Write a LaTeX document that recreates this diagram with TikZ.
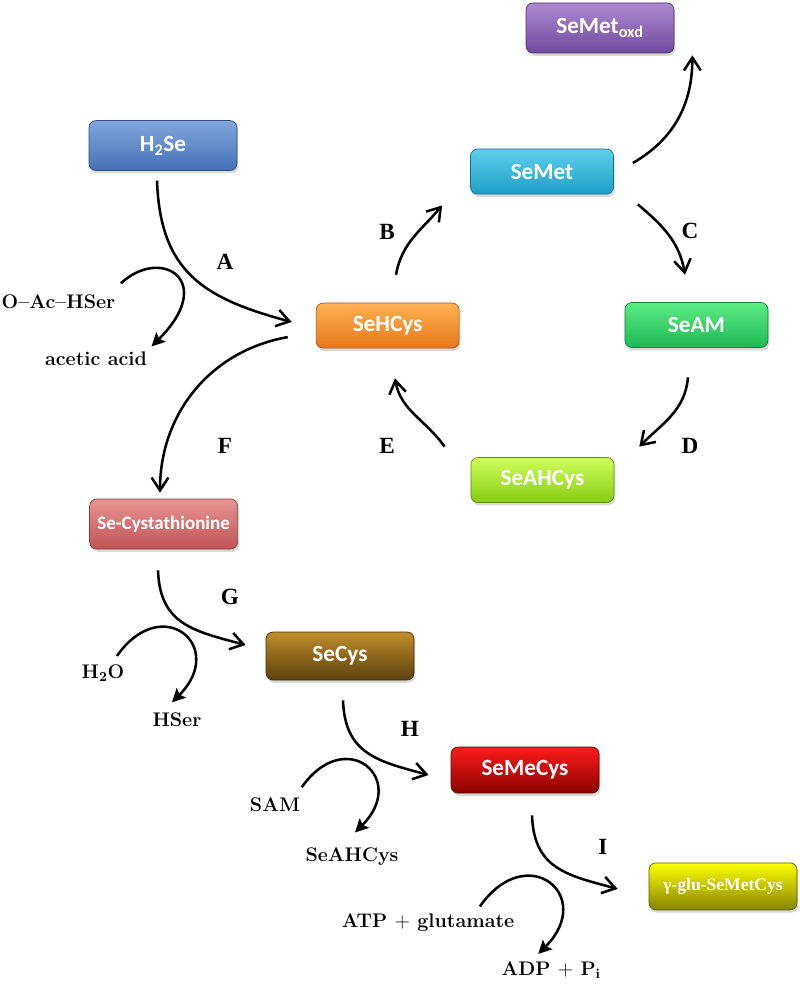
\documentclass[tikz,border=0pt]{standalone}
\usepackage{fontspec}
\newfontfamily\cpdfont{Carlito}
\newfontfamily\letterfont{Liberation Serif}
\usepackage{tikz}
\usetikzlibrary{arrows.meta, shadows, calc, positioning}

\definecolor{oxdT}{RGB}{172,138,208}\definecolor{oxdB}{RGB}{112,74,158}
\definecolor{hseT}{RGB}{128,168,222}\definecolor{hseB}{RGB}{68,112,182}
\definecolor{metT}{RGB}{92,208,236}\definecolor{metB}{RGB}{30,158,198}
\definecolor{hcyT}{RGB}{255,178,82}\definecolor{hcyB}{RGB}{232,118,28}
\definecolor{samT}{RGB}{92,236,132}\definecolor{samB}{RGB}{30,184,84}
\definecolor{ahcT}{RGB}{208,255,92}\definecolor{ahcB}{RGB}{134,204,20}
\definecolor{cstT}{RGB}{232,148,148}\definecolor{cstB}{RGB}{192,84,84}
\definecolor{cysT}{RGB}{192,142,42}\definecolor{cysB}{RGB}{92,64,14}
\definecolor{mecT}{RGB}{255,28,28}\definecolor{mecB}{RGB}{138,0,0}
\definecolor{gluT}{RGB}{255,255,0}\definecolor{gluB}{RGB}{132,132,0}

\begin{document}
\begin{tikzpicture}[
  cpd/.style={draw=#1B!70!black, line width=0.5pt, rounded corners=5pt,
              top color=#1T, bottom color=#1B, text=white,
              minimum width=3.7cm, minimum height=1.25cm, inner sep=2pt,
              font=\cpdfont\bfseries\fontsize{16.5}{18}\selectfont,
              drop shadow={opacity=0.3, shadow xshift=0.03cm, shadow yshift=-0.07cm}},
  cyc/.style={cpd=#1, minimum width=3.575cm, minimum height=1.125cm},
  lbl/.style={font=\letterfont\bfseries\fontsize{16.5}{18}\selectfont},
  chem/.style={font=\bfseries\fontsize{14}{16}\selectfont, inner sep=1pt},
  arrow/.style={-{Straight Barb[length=3.2mm,width=4.2mm]}, line width=1.8pt},
  side/.style={-{Stealth[length=3.3mm,width=3.3mm,inset=0.6mm]}, line width=1.8pt},
]
\useasboundingbox (0,0) rectangle (19.975,-24.6);

% Boxes
\node[cpd=oxd] (oxd)     at (15.0,-0.7)    {SeMet\textsubscript{oxd}};
\node[cpd=hse] (h2se)    at (4.075,-3.64)  {H\textsubscript{2}Se};
\node[cyc=met] (semet)   at (13.55,-4.29)  {SeMet};
\node[cyc=hcy] (sehcys)  at (9.69,-8.14)   {SeHCys};
\node[cyc=sam] (seam)    at (17.41,-8.125) {SeAM};
\node[cyc=ahc] (seahcys) at (13.56,-12.0)  {SeAHCys};
\node[cpd=cst, font=\cpdfont\bfseries\fontsize{13.5}{15}\selectfont]
               (secysta) at (4.09,-13.1)   {Se-Cystathionine};
\node[cpd=cys, minimum height=1.2cm]  (secys)   at (8.5,-16.4)    {SeCys};
\node[cpd=mec, minimum height=1.15cm] (semecys) at (13.125,-19.25) {SeMeCys};
\node[cpd=glu, minimum height=1.175cm, font=\letterfont\bfseries\fontsize{12.5}{14}\selectfont]
               (glu)     at (18.075,-22.16) {γ-glu-SeMetCys};

% Co-substrates
\node[chem, anchor=west] (oac) at (0,-7.55)  {O--Ac--HSer};
\node[chem] (acetic) at (2.4,-8.975)  {acetic acid};
\node[chem] (h2o)    at (2.575,-16.825) {H\textsubscript{2}O};
\node[chem] (hser)   at (4.425,-18.0)  {HSer};
\node[chem] (sam)    at (6.875,-20.125) {SAM};
\node[chem] (sah)    at (8.8,-21.425)  {SeAHCys};
\node[chem] (atp)    at (10.7,-23.075) {ATP $+$ glutamate};
\node[chem] (adp)    at (13.78,-24.25) {ADP $+$\ P\textsubscript{i}};

% Step letters
\node[lbl] (lA) at (5.625,-6.55)  {A};
\node[lbl] (lB) at (9.675,-5.8)   {B};
\node[lbl] (lC) at (17.25,-5.775) {C};
\node[lbl] (lD) at (17.25,-11.15) {D};
\node[lbl] (lE) at (9.675,-11.15) {E};
\node[lbl] (lF) at (5.625,-11.15) {F};
\node[lbl] (lG) at (5.75,-14.925) {G};
\node[lbl] (lH) at (10.25,-18.225) {H};
\node[lbl] (lI) at (15.075,-21.175) {I};

% Arrows
\draw[arrow] ([shift={(-0.15,-0.24)}]h2se.south) to[out=-88,in=165,looseness=1.2] ([shift={(-0.6,0.09)}]sehcys.west);
\draw[arrow] ([shift={(0.21,0.7)}]sehcys.north) to[out=80,in=-130] ([shift={(-0.7,-0.275)}]semet.south west);
\draw[arrow] ([shift={(0.475,0.215)}]semet.east) to[out=30,in=-90] ([shift={(0.45,-0.05)}]oxd.south east);
\draw[arrow] ([shift={(0.6,-0.25)}]semet.south east) to[out=-40,in=100] ([shift={(-0.285,0.6875)}]seam.north);
\draw[arrow] ([shift={(-0.21,-0.7375)}]seam.south) to[out=-95,in=45] ([shift={(0.625,0.2625)}]seahcys.north east);
\draw[arrow] ([shift={(-0.65,0.2625)}]seahcys.north west) to[out=125,in=-80] ([shift={(0.185,-0.7475)}]sehcys.south);
\draw[arrow] ([shift={(-0.7,-0.2875)}]sehcys.west) to[out=190,in=90] ([shift={(-0.09,0.15)}]secysta.north);
\draw[arrow] ([shift={(-0.14,-0.525)}]secysta.south) to[out=-88,in=165,looseness=1.2] ([shift={(-0.5,0.275)}]secys.west);
\draw[arrow] ([shift={(0.075,-0.5)}]secys.south) to[out=-88,in=165,looseness=1.2] ([shift={(-0.55,-0.125)}]semecys.west);
\draw[arrow] ([shift={(0.175,-0.55)}]semecys.south) to[out=-88,in=165,looseness=1.2] ([shift={(-0.775,-0.0625)}]glu.west);

% Side reactions
\draw[side] ([shift={(0.1,0.25)}]oac.north east) to[out=43,in=45,out looseness=2,in looseness=3.4] ([shift={(0.075,0.1)}]acetic.north east);
\draw[side] ([shift={(-0.225,0.175)}]h2o.north east) to[out=55,in=45,looseness=2.8] ([shift={(-0.125,0.225)}]hser.north);
\draw[side] ([shift={(0,0.225)}]sam.north east) to[out=55,in=45,looseness=2.8] ([shift={(0.075,0.35)}]sah.north);
\draw[side] ([shift={(-0.9,0.15)}]atp.north east) to[out=55,in=45,looseness=2.8] ([shift={(-0.325,0.15)}]adp.north);
\end{tikzpicture}
\end{document}
